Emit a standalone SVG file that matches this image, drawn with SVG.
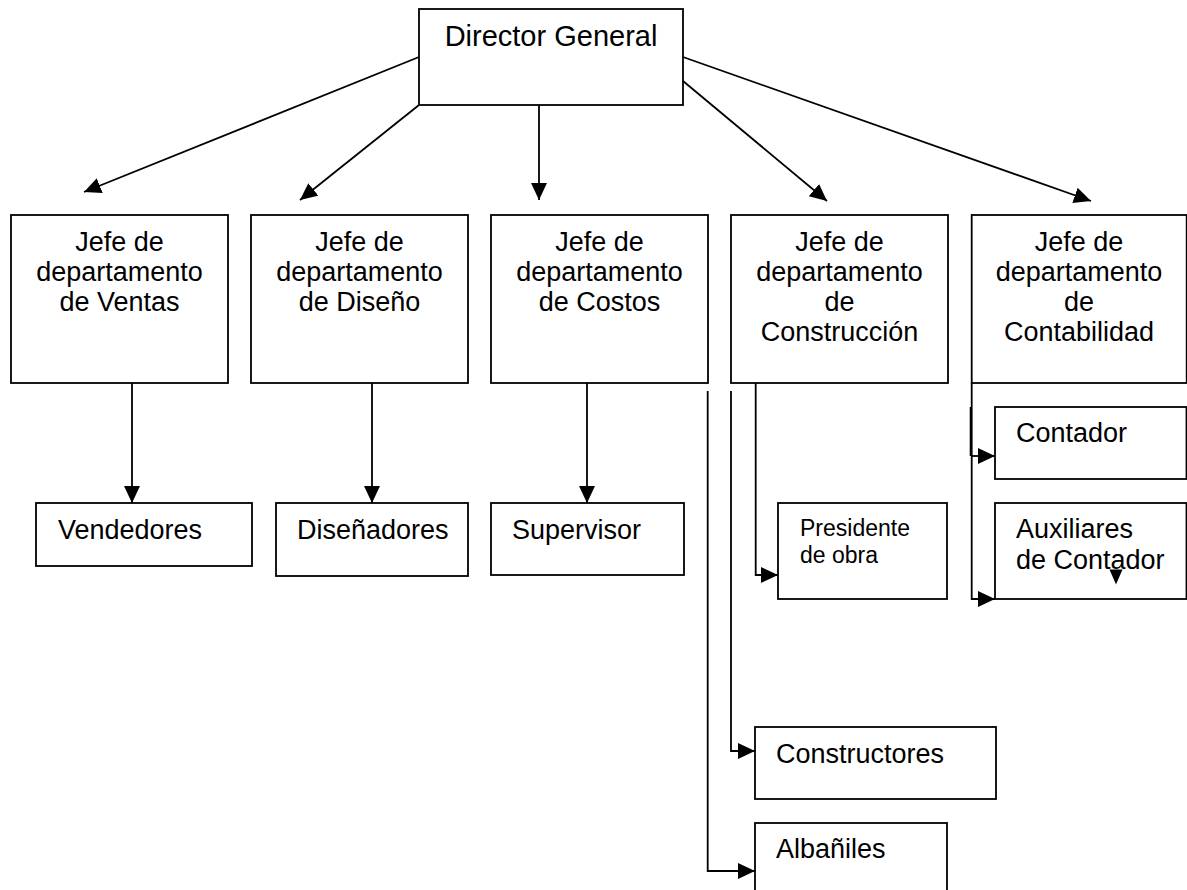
<svg xmlns="http://www.w3.org/2000/svg" width="1187" height="890" viewBox="0 0 1187 890">
  <style>
    .box { fill: #ffffff; stroke: #000000; stroke-width: 1.8; }
    .lbl { font-family: "Liberation Sans", Arial, sans-serif; font-size: 27px; fill: #000000; }
    .mid { text-anchor: middle; }
    .small { font-size: 23px; }
    .big { font-size: 29px; }
    .wire { fill: none; stroke: #000000; stroke-width: 1.8; }
  </style>
  <defs>
    <marker id="arrow" markerUnits="userSpaceOnUse" markerWidth="20" markerHeight="18" refX="17" refY="8" orient="auto">
      <path d="M0,0 L17,8 L0,16 Z" fill="#000000"/>
    </marker>
  </defs>

  <!-- connectors -->
  <g id="connectors">
    <line class="wire" x1="419" y1="57" x2="84" y2="192" marker-end="url(#arrow)"/>
    <line class="wire" x1="419" y1="105" x2="300" y2="200" marker-end="url(#arrow)"/>
    <line class="wire" x1="539" y1="105" x2="539" y2="200" marker-end="url(#arrow)"/>
    <line class="wire" x1="683" y1="81" x2="827" y2="201" marker-end="url(#arrow)"/>
    <line class="wire" x1="683" y1="57" x2="1091" y2="201" marker-end="url(#arrow)"/>

    <line class="wire" x1="132" y1="383" x2="132" y2="503" marker-end="url(#arrow)"/>
    <line class="wire" x1="372" y1="383" x2="372" y2="503" marker-end="url(#arrow)"/>
    <line class="wire" x1="587" y1="383" x2="587" y2="503" marker-end="url(#arrow)"/>

    <path class="wire" d="M755.7,383 V575 H778" marker-end="url(#arrow)"/>
    <path class="wire" d="M731,391 V751 H755" marker-end="url(#arrow)"/>
    <path class="wire" d="M707.7,391 V871 H755" marker-end="url(#arrow)"/>

    <path class="wire" d="M971.7,383 V599 H995" marker-end="url(#arrow)"/>
    <path class="wire" d="M971.7,456 H995" marker-end="url(#arrow)"/>
    <line class="wire" x1="970.6" y1="407" x2="970.6" y2="456"/>
  </g>

  <g id="director">
    <rect class="box" x="419" y="9" width="264" height="96"/>
    <text class="lbl big mid" x="551" y="46">Director General</text>
  </g>

  <g id="jefe-ventas">
    <rect class="box" x="11" y="215" width="217" height="168"/>
    <text class="lbl mid" x="119.5" y="251">Jefe de</text>
    <text class="lbl mid" x="119.5" y="281">departamento</text>
    <text class="lbl mid" x="119.5" y="311">de Ventas</text>
  </g>

  <g id="jefe-diseno">
    <rect class="box" x="251" y="215" width="217" height="168"/>
    <text class="lbl mid" x="359.5" y="251">Jefe de</text>
    <text class="lbl mid" x="359.5" y="281">departamento</text>
    <text class="lbl mid" x="359.5" y="311">de Diseño</text>
  </g>

  <g id="jefe-costos">
    <rect class="box" x="491" y="215" width="217" height="168"/>
    <text class="lbl mid" x="599.5" y="251">Jefe de</text>
    <text class="lbl mid" x="599.5" y="281">departamento</text>
    <text class="lbl mid" x="599.5" y="311">de Costos</text>
  </g>

  <g id="jefe-construccion">
    <rect class="box" x="731" y="215" width="217" height="168"/>
    <text class="lbl mid" x="839.5" y="251">Jefe de</text>
    <text class="lbl mid" x="839.5" y="281">departamento</text>
    <text class="lbl mid" x="839.5" y="311">de</text>
    <text class="lbl mid" x="839.5" y="341">Construcción</text>
  </g>

  <g id="jefe-contabilidad">
    <rect class="box" x="971.7" y="215" width="215" height="168"/>
    <text class="lbl mid" x="1079" y="251">Jefe de</text>
    <text class="lbl mid" x="1079" y="281">departamento</text>
    <text class="lbl mid" x="1079" y="311">de</text>
    <text class="lbl mid" x="1079" y="341">Contabilidad</text>
  </g>

  <g id="vendedores">
    <rect class="box" x="36" y="503" width="216" height="63"/>
    <text class="lbl" x="58" y="539">Vendedores</text>
  </g>

  <g id="disenadores">
    <rect class="box" x="276" y="503" width="192" height="73"/>
    <text class="lbl" x="297" y="539">Diseñadores</text>
  </g>

  <g id="supervisor">
    <rect class="box" x="491" y="503" width="193" height="72"/>
    <text class="lbl" x="512" y="539">Supervisor</text>
  </g>

  <g id="presidente-obra">
    <rect class="box" x="778" y="503" width="169" height="96"/>
    <text class="lbl small" x="800" y="536">Presidente</text>
    <text class="lbl small" x="800" y="563">de obra</text>
  </g>

  <g id="contador">
    <rect class="box" x="995" y="407" width="191.5" height="72"/>
    <text class="lbl" x="1016" y="442">Contador</text>
  </g>

  <g id="auxiliares">
    <rect class="box" x="995" y="503" width="191.5" height="96"/>
    <text class="lbl" x="1016" y="538">Auxiliares</text>
    <text class="lbl" x="1016" y="569">de Contador</text>
    <!-- stray arrowhead sitting over the second line -->
    <path d="M1109.5,569.5 L1122.5,569.5 L1116,584.5 Z" fill="#000000"/>
  </g>

  <g id="constructores">
    <rect class="box" x="755" y="727" width="241" height="72"/>
    <text class="lbl" x="776" y="763">Constructores</text>
  </g>

  <g id="albaniles">
    <rect class="box" x="755" y="823" width="192" height="80"/>
    <text class="lbl" x="776" y="858">Albañiles</text>
  </g>
</svg>
